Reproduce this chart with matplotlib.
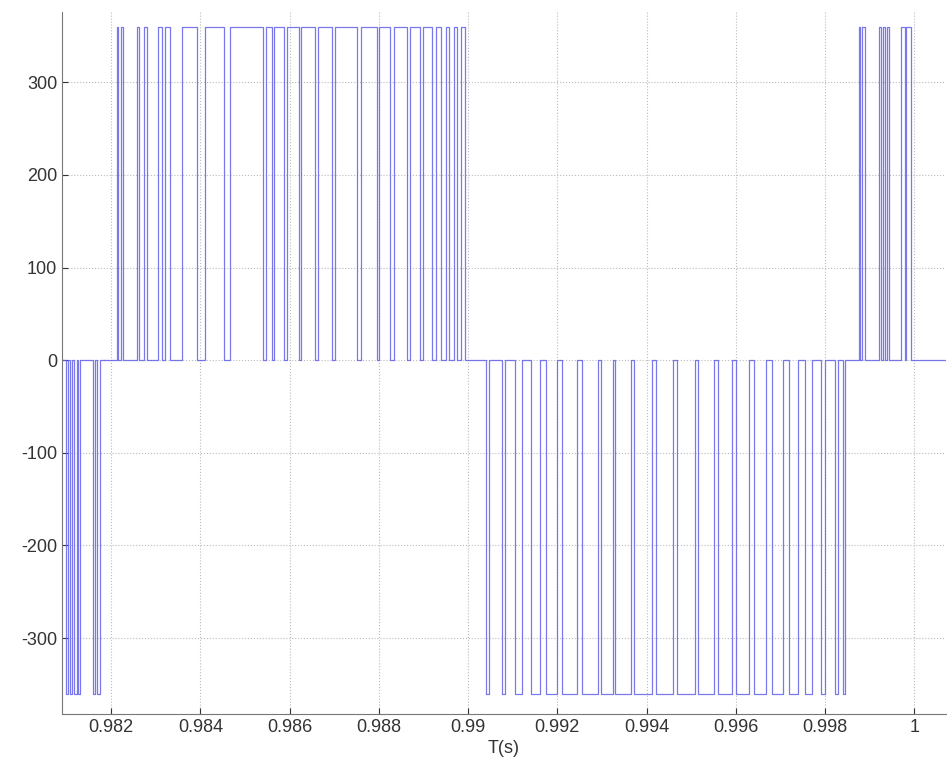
import numpy as np
import matplotlib.pyplot as plt

# pulse edges (s): each pair is (start, end) of a pulse at the given level
neg1_start = [0.98099, 0.98107, 0.98116, 0.98126, 0.98160, 0.98168]
neg1_end   = [0.98104, 0.98113, 0.98123, 0.98131, 0.98164, 0.98175]

pos_start = [0.98213, 0.98222, 0.98258, 0.98274, 0.98305, 0.98321, 0.98359, 0.98410,
             0.98466, 0.98548, 0.98566, 0.98595, 0.98626, 0.98664, 0.98702, 0.98760,
             0.98800, 0.98833, 0.98870, 0.98900, 0.98928, 0.98950, 0.98968, 0.98985]
pos_end   = [0.98216, 0.98227, 0.98263, 0.98281, 0.98314, 0.98332, 0.98392, 0.98453,
             0.98540, 0.98560, 0.98588, 0.98620, 0.98658, 0.98695, 0.98752, 0.98795,
             0.98825, 0.98862, 0.98893, 0.98920, 0.98940, 0.98958, 0.98975, 0.98993]

neg_start = [0.99040, 0.99075, 0.99105, 0.99140, 0.99175, 0.99210, 0.99255, 0.99298,
             0.99330, 0.99372, 0.99420, 0.99468, 0.99515, 0.99560, 0.99600, 0.99640,
             0.99680, 0.99720, 0.99755, 0.99790, 0.99822, 0.99840]
neg_end   = [0.99046, 0.99083, 0.99120, 0.99160, 0.99200, 0.99245, 0.99290, 0.99325,
             0.99365, 0.99412, 0.99460, 0.99508, 0.99552, 0.99592, 0.99630, 0.99668,
             0.99705, 0.99740, 0.99770, 0.99800, 0.99828, 0.99845]

pos2_start = [0.99876, 0.99883, 0.99920, 0.99929, 0.99938, 0.99971, 0.99982]
pos2_end   = [0.99879, 0.99889, 0.99925, 0.99935, 0.99944, 0.99978, 0.99992]

level = 360


def build(starts, ends, v):
    t, y = [], []
    for a, b in zip(starts, ends):
        t += [a, a, b, b]
        y += [0, v, v, 0]
    return t, y


t_all, y_all = [0.9808], [0]
for s, e, v in [(neg1_start, neg1_end, -level), (pos_start, pos_end, level),
                (neg_start, neg_end, -level), (pos2_start, pos2_end, level)]:
    tt, yy = build(s, e, v)
    t_all += tt
    y_all += yy
t_all.append(1.0008)
y_all.append(0)

plt.rcParams['font.family'] = ['Liberation Sans', 'DejaVu Sans']
plt.rcParams['axes.unicode_minus'] = False
fig = plt.figure(figsize=(9.47, 7.69), dpi=100)
ax = fig.add_axes([0.0655, 0.0715, 0.933, 0.913])
ax.plot(t_all, y_all, color='#6262ea', lw=0.9, alpha=0.85)

ax.set_xlim(0.9809, 1.0007)
ax.set_ylim(-382, 376)
xt = np.arange(0.982, 1.0001, 0.002)
ax.set_xticks(xt)
ax.set_xticklabels(['%g' % round(v, 3) for v in xt])
ax.set_yticks(np.arange(-300, 301, 100))
ax.tick_params(labelsize=13, colors='#333333', direction='in', length=4)
ax.grid(True, linestyle=':', color='#bbbbbb', lw=0.8)
ax.spines['top'].set_visible(False)
ax.spines['right'].set_visible(False)
for s in ['left', 'bottom']:
    ax.spines[s].set_color('#777777')
ax.set_xlabel('T(s)', fontsize=13, color='#333333', labelpad=3)

fig.savefig('out.png', dpi=100)
